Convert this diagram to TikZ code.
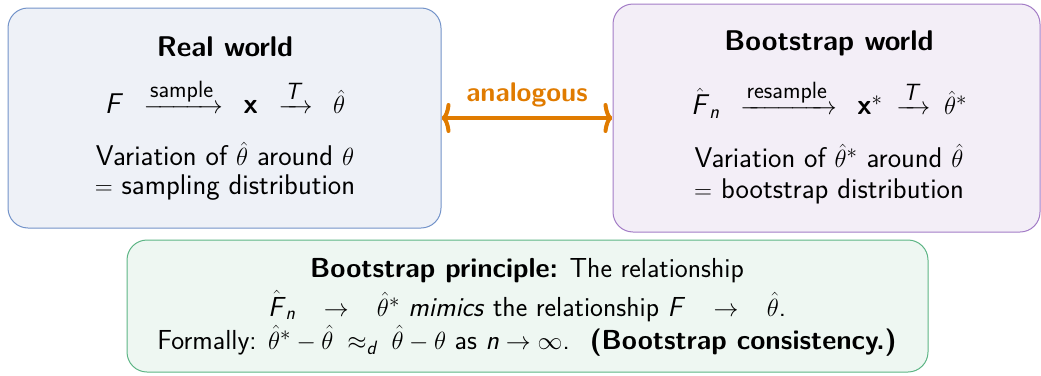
\documentclass[tikz,border=0pt]{standalone}
\usepackage{amsmath}
\usepackage{fontspec}
\usetikzlibrary{arrows.meta}
\renewcommand\familydefault{\sfdefault}
\newcommand\sv[1]{\text{\textsl{#1}}}
\newcommand\bx{\text{\bfseries x}}
\newcommand\lbl[1]{\mbox{\fontsize{23.5}{24}\selectfont #1}}
\definecolor{realfill}{HTML}{EEF1F7}
\definecolor{realdraw}{HTML}{7393C9}
\definecolor{bootfill}{HTML}{F3EEF7}
\definecolor{bootdraw}{HTML}{A37CC6}
\definecolor{prinfill}{HTML}{EEF7F2}
\definecolor{prindraw}{HTML}{5DB585}
\definecolor{anaorange}{HTML}{E07B00}
\tikzset{
  panel/.style={draw, rounded corners=20pt, line width=1pt},
  txt/.style={inner sep=0pt, font=\fontsize{28.5}{32}\selectfont},
  btxt/.style={inner sep=0pt, font=\fontsize{27.5}{32}\selectfont},
  ttl/.style={inner sep=0pt, font=\fontsize{28.5}{32}\selectfont\bfseries},
}
\begin{document}
\begin{tikzpicture}[x=1pt,y=-1pt]
\useasboundingbox (0,0) rectangle (1041,375);
% panels
\node[panel, fill=realfill, draw=realdraw, minimum width=433pt, minimum height=220pt] (real) at (224.5,118) {};
\node[panel, fill=bootfill, draw=bootdraw, minimum width=427pt, minimum height=228pt] (boot) at (826.5,118) {};
\node[panel, fill=prinfill, draw=prindraw, minimum width=801pt, minimum height=132pt] (prin) at (527.5,306) {};
% real world
\node[ttl] (rt) at (225,47) {Real world};
\node[txt] (rf) at (225,96) {$\sv{F}\;\;\xrightarrow{\lbl{sample}}\;\;\bx\;\;\xrightarrow{\lbl{\textsl{T}}}\;\;\hat\theta$};
\node[txt] (rv) at (225,154) {Variation of $\hat\theta$ around $\theta$};
\node[txt] (rs) at (225,188) {$=$ sampling distribution};
% bootstrap world
\node[ttl] (bt) at (829,43) {Bootstrap world};
\node[txt] (bf) at (829,99) {$\hat{\sv{F}}_{\sv{n}}\;\;\xrightarrow{\lbl{resample}}\;\;\bx^*\;\xrightarrow{\lbl{\textsl{T}}}\;\hat\theta^*$};
\node[txt] (bv) at (829,156) {Variation of $\hat\theta^*$ around $\hat\theta$};
\node[txt] (bs) at (829,191) {$=$ bootstrap distribution};
% analogous arrow
\draw[anaorange, line width=4pt, {Computer Modern Rightarrow[length=9pt,width=30pt]}-{Computer Modern Rightarrow[length=9pt,width=30pt]}] (real.east |- 0,118) -- (boot.west |- 0,118);
\node[inner sep=0pt, text=anaorange, font=\fontsize{27}{30}\selectfont\bfseries] (ana) at (527,95) {analogous};
% principle
\node[btxt] (p1) at (527,271) {\textbf{Bootstrap principle:} The relationship};
\node[btxt] (p2) at (527,306) {$\hat{\sv{F}}_{\sv{n}}\ \ \,\to\ \ \,\hat\theta^*$ \textsl{mimics} the relationship $\sv{F}\ \ \,\to\ \ \,\hat\theta$.};
\node[btxt] (p3) at (527,341) {Formally: $\hat\theta^*-\hat\theta\;\approx_{\sv{d}}\;\hat\theta-\theta$ as $\sv{n}\to\infty$. \ \textbf{(Bootstrap consistency.)}};
\end{tikzpicture}
\end{document}
